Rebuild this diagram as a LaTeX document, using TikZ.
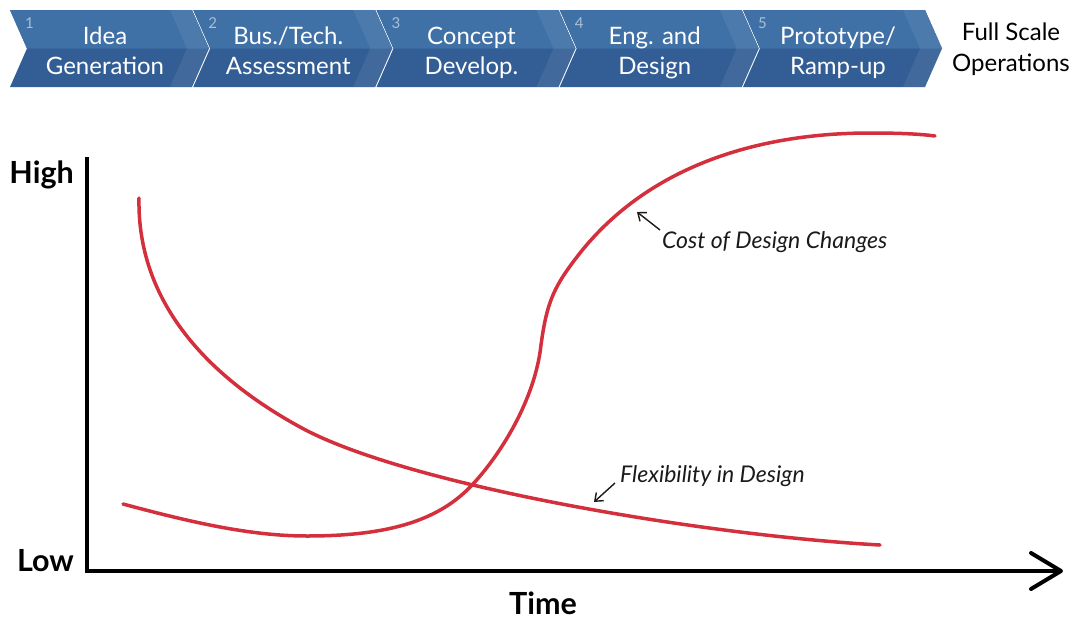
\documentclass[tikz,border=0pt]{standalone}
\usepackage{fontspec}
\setmainfont{Lato}
\usetikzlibrary{arrows.meta}
\definecolor{chevtop}{HTML}{3F70A6}
\definecolor{chevbot}{HTML}{335E95}
\definecolor{numcol}{HTML}{A9BFD8}
\definecolor{curvered}{HTML}{D42F3C}
\definecolor{inkcol}{HTML}{1A1A1A}
\tikzset{
  chevtext/.style={font=\fontsize{24}{30}\selectfont, text=white, align=center, inner sep=0pt},
  numtext/.style={font=\fontsize{15}{15}\selectfont, text=numcol, inner sep=0pt, anchor=base west},
  axislabel/.style={font=\bfseries\fontsize{30.5}{30.5}\selectfont, text=black, inner sep=0pt},
  curvelabel/.style={font=\itshape\fontsize{23}{23}\selectfont, text=inkcol, inner sep=0pt, anchor=base west},
  axisline/.style={line width=4pt, black},
  curve/.style={line width=3.5pt, curvered, line cap=round},
  pointer/.style={line width=1.4pt, inkcol, -{Straight Barb[length=7pt,width=11pt,line width=1.4pt]}}
}
\begin{document}
\begin{tikzpicture}[x=1pt,y=-1pt]
\useasboundingbox (0,0) rectangle (1072,619);
\fill[white] (0,0) rectangle (1072,619);

% process chevrons
\foreach \i/\a/\b in {1/Idea/Generation, 2/{Bus./Tech.}/Assessment, 3/Concept/{Develop.}, 4/{Eng. and}/Design, 5/{Prototype/}/Ramp-up}{
  \pgfmathsetmacro{\L}{10+183.25*(\i-1)}
  \pgfmathsetmacro{\R}{\L+182}
  \fill[chevbot] (\L,10) -- (\R,10) -- (\R+17,48.5) -- (\R,87) -- (\L,87) -- (\L+17,48.5) -- cycle;
  \fill[chevtop] (\L,10) -- (\R,10) -- (\R+17,48.5) -- (\L+17,48.5) -- cycle;
  \fill[white, opacity=0.07] (\R-22,10) -- (\R,10) -- (\R+17,48.5) -- (\R,87) -- (\R-22,87) -- (\R-5,48.5) -- cycle;
  \node[numtext] (n\i) at (\L+15,28) {\i};
  \node[chevtext, anchor=base] (t\i) at (\L+95,74) {\a\\\b};
}
\node[font=\fontsize{24}{31}\selectfont, align=center, inner sep=0pt, anchor=base] (full) at (1011,71) {Full Scale\\Operations};

% axes
\coordinate (ytop) at (87,157);
\coordinate (origin) at (87,571);
\coordinate (xend) at (1061,571);
\coordinate (armA) at (1031,553);
\coordinate (armB) at (1031,589);
\draw[axisline] (ytop) -- (origin) -- (xend);
\draw[axisline, line cap=round, line join=round] (armA) -- (xend) -- (armB);

\node[axislabel, anchor=base east] (high) at (74,183) {High};
\node[axislabel, anchor=base east] (low) at (74,571) {Low};
\node[axislabel, anchor=base] (time) at (543,614) {Time};

% curves
\coordinate (f0) at (139,198);
\coordinate (f1) at (300,427);
\coordinate (f2) at (880,545);
\draw[curve] (f0) .. controls (137,300) and (205,375) .. (f1)
                  .. controls (405,485) and (700,535) .. (f2);
\coordinate (c0) at (123,504);
\coordinate (c1) at (307,536);
\coordinate (c2) at (473,484);
\coordinate (c3) at (541,345);
\coordinate (c4) at (580,253);
\coordinate (c5) at (870,133);
\coordinate (c6) at (935,136);
\draw[curve] (c0) .. controls (190,522) and (250,536) .. (c1)
                  .. controls (390,536) and (440,520) .. (c2)
                  .. controls (500,455) and (535,400) .. (c3)
                  .. controls (547,300) and (555,285) .. (c4)
                  .. controls (650,165) and (760,133) .. (c5)
                  .. controls (900,133) and (920,134) .. (c6);

% labels
\node[curvelabel] (costlab) at (662,248) {Cost of Design Changes};
\node[curvelabel] (flexlab) at (620,482) {Flexibility in Design};
\coordinate (costtip) at (637,212);
\coordinate (costtail) at (660,230);
\coordinate (flextip) at (594,502);
\coordinate (flextail) at (615,483);
\draw[pointer] (costtail) -- (costtip);
\draw[pointer] (flextail) -- (flextip);
\end{tikzpicture}
\end{document}
